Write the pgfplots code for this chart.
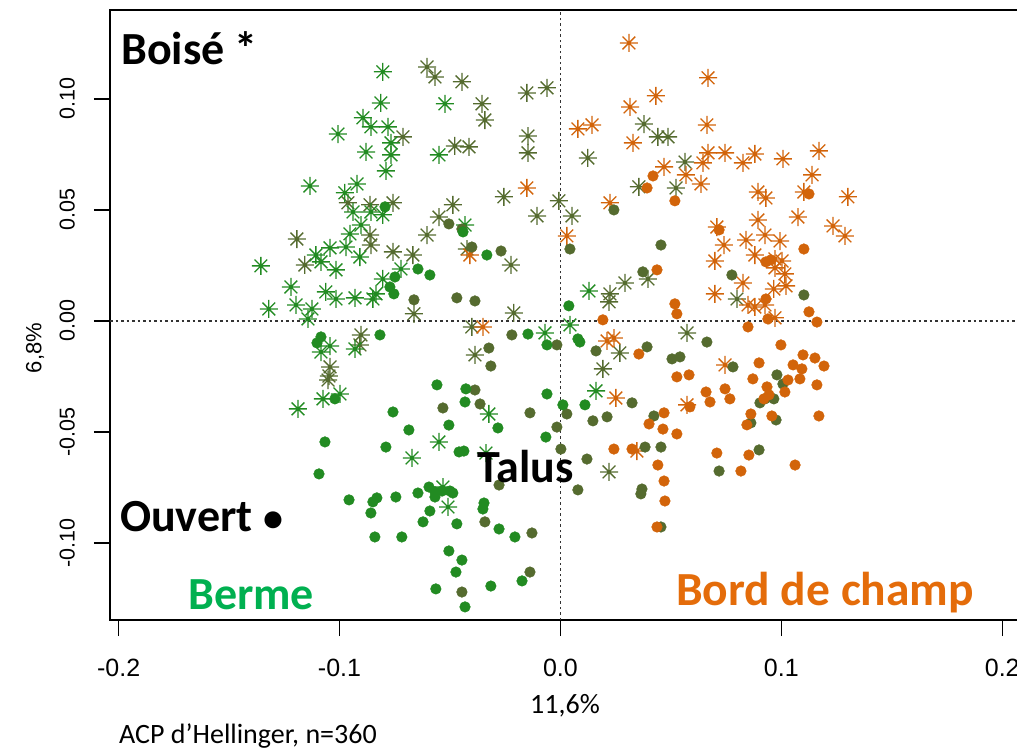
\documentclass[border=0pt]{standalone}
\usepackage{pgfplots}
\pgfplotsset{compat=1.18}
\usepackage{fontspec}
\setmainfont{Carlito}
\newfontfamily\arialf{Liberation Sans}
\definecolor{cgreen}{RGB}{34,139,34}
\definecolor{colive}{RGB}{85,107,47}
\definecolor{corange}{RGB}{210,100,10}
\definecolor{tgreen}{RGB}{0,176,80}
\definecolor{torange}{RGB}{228,108,10}
\pgfdeclareplotmark{rast}{%
 \pgfpathmoveto{\pgfqpoint{-\pgfplotmarksize}{0pt}}%
 \pgfpathlineto{\pgfqpoint{\pgfplotmarksize}{0pt}}%
 \pgfpathmoveto{\pgfqpoint{0pt}{-\pgfplotmarksize}}%
 \pgfpathlineto{\pgfqpoint{0pt}{\pgfplotmarksize}}%
 \pgfpathmoveto{\pgfqpoint{-0.7071\pgfplotmarksize}{-0.7071\pgfplotmarksize}}%
 \pgfpathlineto{\pgfqpoint{0.7071\pgfplotmarksize}{0.7071\pgfplotmarksize}}%
 \pgfpathmoveto{\pgfqpoint{-0.7071\pgfplotmarksize}{0.7071\pgfplotmarksize}}%
 \pgfpathlineto{\pgfqpoint{0.7071\pgfplotmarksize}{-0.7071\pgfplotmarksize}}%
 \pgfusepathqstroke}
\pgfplotsset{
 astr/.style={only marks, mark=rast, mark size=9pt, mark options={line width=1.3pt, draw=#1}},
 dotr/.style={only marks, mark=*, mark size=5.3pt, mark options={fill=#1, draw=#1, line width=0.5pt}},
}
\begin{document}
\begin{tikzpicture}
\begin{axis}[
 at={(0pt,0pt)}, anchor=south west,
 scale only axis, width=925.4pt, height=610.1pt,
 xmin=-0.2039, xmax=0.215, ymin=-0.1347, ymax=0.1401,
 axis line style={line width=1.3pt, black},
 tick pos=left, tick align=outside, major tick length=16pt,
 every tick/.style={black, line width=1.3pt},
 xtick={-0.2,-0.1,0,0.1,0.2}, xticklabels={-0.2,-0.1,0.0,0.1,0.2},
 ytick={-0.1,-0.05,0,0.05,0.1}, yticklabels={-0.10,-0.05,0.00,0.05,0.10},
 xticklabel style={font=\arialf\fontsize{25}{30}\selectfont, inner sep=0pt, anchor=north, yshift=-23pt},
 yticklabel style={font=\arialf\fontsize{21.5}{26}\selectfont, inner sep=0pt, rotate=90, anchor=south, yshift=19pt},
]
\draw[black!80, line width=1.2pt, dash pattern=on 2.5pt off 3pt] (axis cs:0,-0.1347) -- (axis cs:0,0.1401);
\draw[black!80, line width=1.2pt, dash pattern=on 2.5pt off 3pt] (axis cs:-0.2039,0) -- (axis cs:0.215,0);
% Talus - Boise
\addplot[astr=colive] coordinates {(-0.0713,0.0829) (-0.0962,0.0532) (-0.0862,0.0523) (-0.0758,0.0532) (-0.0604,0.1144) (-0.0568,0.1099) (-0.0446,0.1077) (-0.0355,0.0978) (-0.0342,0.0905) (-0.0152,0.1027) (-0.0061,0.1050) (-0.0147,0.0833) (-0.0147,0.0757) (-0.0478,0.0788) (-0.0414,0.0784) (-0.0256,0.0559) (-0.0487,0.0523) (-0.0007,0.0541) (-0.0550,0.0468) (-0.0106,0.0473) (0.0052,0.0473) (0.0378,0.0887) (0.0441,0.0829) (0.0487,0.0829) (0.0124,0.0734) (0.0564,0.0716) (0.0355,0.0604) (0.0523,0.0599) (-0.1193,0.0369) (-0.0862,0.0387) (-0.0858,0.0342) (-0.0758,0.0311) (-0.0668,0.0297) (-0.1157,0.0252) (-0.0663,0.0032) (-0.0903,-0.0063) (-0.0908,-0.0108) (-0.1043,-0.0207) (-0.1048,-0.0248) (-0.1052,-0.0266) (-0.0604,0.0387) (-0.0423,0.0324) (-0.0224,0.0252) (0.0396,0.0189) (0.0292,0.0171) (0.0224,0.0122) (0.0220,0.0086) (-0.0211,0.0036) (-0.0401,-0.0027) (0.0573,-0.0054) (-0.0387,-0.0153) (0.0192,-0.0216) (0.0269,-0.0144) (0.0799,0.0099) (0.0220,-0.0680)};
% Berme - Boise
\addplot[astr=cgreen] coordinates {(-0.0804,0.1122) (-0.0813,0.0982) (-0.0894,0.0915) (-0.0858,0.0874) (-0.0781,0.0874) (-0.1007,0.0842) (-0.0767,0.0802) (-0.0880,0.0761) (-0.0767,0.0748) (-0.0790,0.0676) (-0.1134,0.0608) (-0.0921,0.0617) (-0.0976,0.0577) (-0.0523,0.0978) (-0.0550,0.0748) (-0.0939,0.0491) (-0.0858,0.0491) (-0.0804,0.0478) (-0.0903,0.0432) (-0.0953,0.0392) (-0.0971,0.0333) (-0.1043,0.0329) (-0.1107,0.0297) (-0.0908,0.0288) (-0.1084,0.0266) (-0.1016,0.0230) (-0.0722,0.0234) (-0.1356,0.0248) (-0.0804,0.0189) (-0.1220,0.0153) (-0.1062,0.0131) (-0.1016,0.0099) (-0.0930,0.0104) (-0.0849,0.0099) (-0.0835,0.0122) (-0.1320,0.0054) (-0.1197,0.0072) (-0.1125,0.0054) (-0.1143,0.0009) (-0.1043,-0.0113) (-0.1084,-0.0140) (-0.0930,-0.0126) (-0.1075,-0.0351) (-0.0998,-0.0329) (-0.1188,-0.0396) (-0.0432,0.0432) (0.0129,0.0135) (0.0043,-0.0018) (-0.0070,-0.0054) (0.0161,-0.0315) (-0.0324,-0.0419) (-0.0672,-0.0617) (-0.0550,-0.0545) (-0.0337,-0.0595) (-0.0532,-0.0748) (-0.0509,-0.0838)};
% Bord de champ - Boise
\addplot[astr=corange] coordinates {(0.0310,0.1252) (0.0668,0.1095) (0.0432,0.1014) (0.0315,0.0964) (0.0079,0.0865) (0.0143,0.0883) (0.0663,0.0883) (0.0328,0.0802) (0.0668,0.0757) (0.0645,0.0712) (0.0469,0.0694) (0.0568,0.0658) (0.0636,0.0617) (-0.0152,0.0599) (0.0224,0.0532) (0.0745,0.0757) (0.0826,0.0712) (0.0880,0.0752) (0.1007,0.0730) (0.1170,0.0766) (0.1139,0.0658) (0.0894,0.0581) (0.0930,0.0554) (0.1102,0.0581) (0.1301,0.0559) (0.1075,0.0468) (0.0894,0.0455) (0.0029,0.0383) (-0.0410,0.0297) (-0.0351,-0.0027) (0.0211,-0.0090) (0.0242,-0.0077) (0.0251,-0.0347) (0.0573,-0.0378) (0.1234,0.0428) (0.1288,0.0383) (0.0708,0.0423) (0.0740,0.0342) (0.0840,0.0365) (0.0926,0.0387) (0.0994,0.0360) (0.0880,0.0297) (0.0971,0.0279) (0.1003,0.0270) (0.0699,0.0270) (0.0971,0.0239) (0.1016,0.0212) (0.0826,0.0171) (0.1021,0.0158) (0.0966,0.0144) (0.0699,0.0122) (0.0849,0.0072) (0.0880,0.0063) (0.0926,0.0072) (0.0971,0.0014) (0.0745,-0.0198) (0.0346,-0.0586)};
% Talus - Ouvert
\addplot[dotr=colive] coordinates {(0.0242,0.0500) (-0.0663,0.0095) (-0.0505,0.0437) (-0.0446,0.0414) (0.0043,0.0324) (0.0455,0.0342) (-0.0401,0.0333) (-0.0269,0.0315) (0.0373,0.0221) (-0.0469,0.0104) (-0.0387,0.0090) (-0.0220,-0.0063) (-0.0016,-0.0108) (0.0161,-0.0135) (0.0392,-0.0117) (0.0663,-0.0095) (0.0505,-0.0171) (0.0541,-0.0162) (-0.0324,-0.0122) (-0.0315,-0.0203) (-0.0387,-0.0311) (-0.0364,-0.0374) (-0.0532,-0.0392) (-0.0138,-0.0414) (0.0029,-0.0419) (0.0324,-0.0369) (0.0211,-0.0432) (0.0423,-0.0428) (0.0776,0.0207) (0.1102,0.0117) (0.0781,-0.0207) (0.0980,-0.0243) (0.1007,-0.0284) (0.0926,-0.0351) (0.0966,-0.0351) (0.0903,-0.0369) (-0.0016,-0.0478) (0.0147,-0.0450) (0.0002,-0.0577) (0.0120,-0.0622) (0.0383,-0.0568) (0.0455,-0.0568) (-0.0278,-0.0739) (-0.0342,-0.0905) (-0.0129,-0.0955) (0.0079,-0.0761) (0.0369,-0.0757) (0.0364,-0.0779) (0.0455,-0.0928) (-0.0138,-0.1131) (-0.0446,-0.1221) (0.0862,-0.0459) (0.0976,-0.0446) (0.0899,-0.0581) (0.0718,-0.0676)};
% Berme - Ouvert
\addplot[dotr=cgreen] coordinates {(-0.0794,0.0514) (-0.0749,0.0198) (-0.0772,0.0153) (-0.0754,0.0122) (-0.1084,-0.0072) (-0.1102,-0.0099) (-0.0817,-0.0063) (-0.1021,-0.0351) (-0.0758,-0.0410) (-0.0441,0.0401) (-0.0333,0.0297) (-0.0645,0.0234) (-0.0591,0.0207) (0.0038,0.0068) (-0.0147,-0.0059) (-0.0061,-0.0108) (0.0079,-0.0081) (0.0088,-0.0095) (-0.0559,-0.0288) (-0.0428,-0.0306) (-0.0061,-0.0329) (-0.0432,-0.0365) (0.0011,-0.0378) (0.0111,-0.0378) (-0.1066,-0.0545) (-0.0790,-0.0568) (-0.0686,-0.0491) (-0.1093,-0.0689) (-0.0957,-0.0806) (-0.0831,-0.0797) (-0.0849,-0.0815) (-0.0745,-0.0793) (-0.0858,-0.0865) (-0.0840,-0.0973) (-0.0718,-0.0973) (-0.0505,-0.0469) (-0.0283,-0.0482) (-0.0066,-0.0523) (-0.0459,-0.0590) (-0.0437,-0.0586) (-0.0645,-0.0775) (-0.0595,-0.0748) (-0.0568,-0.0770) (-0.0536,-0.0766) (-0.0500,-0.0766) (-0.0487,-0.0775) (-0.0568,-0.0793) (-0.0591,-0.0856) (-0.0622,-0.0905) (-0.0469,-0.0914) (-0.0346,-0.0820) (-0.0351,-0.0847) (-0.0278,-0.0937) (-0.0206,-0.0973) (-0.0505,-0.1036) (-0.0446,-0.1077) (-0.0473,-0.1131) (-0.0174,-0.1171) (-0.0564,-0.1207) (-0.0315,-0.1194) (-0.0432,-0.1288)};
% Bord de champ - Ouvert
\addplot[dotr=corange] coordinates {(0.0419,0.0653) (0.0392,0.0599) (0.0518,0.0541) (0.1125,0.0572) (0.0437,0.0230) (0.0518,0.0077) (0.0527,0.0032) (0.0192,0.0005) (0.0355,-0.0149) (0.0527,-0.0252) (0.0582,-0.0243) (0.0659,-0.0320) (0.0469,-0.0414) (0.0586,-0.0387) (0.0677,-0.0365) (0.0718,0.0410) (0.1102,0.0324) (0.0930,0.0266) (0.0953,0.0275) (0.0930,0.0099) (0.1125,0.0041) (0.0939,0.0009) (0.1161,-0.0005) (0.0849,-0.0027) (0.0998,-0.0108) (0.1098,-0.0153) (0.1152,-0.0167) (0.1193,-0.0203) (0.0899,-0.0189) (0.1053,-0.0198) (0.1093,-0.0216) (0.1084,-0.0261) (0.0871,-0.0261) (0.1030,-0.0266) (0.1161,-0.0288) (0.0745,-0.0306) (0.0767,-0.0351) (0.0935,-0.0297) (0.0944,-0.0333) (0.1016,-0.0320) (0.0921,-0.0351) (0.0862,-0.0419) (0.0957,-0.0428) (0.1170,-0.0428) (0.0401,-0.0464) (0.0464,-0.0487) (0.0527,-0.0509) (0.0242,-0.0577) (0.0324,-0.0577) (0.0441,-0.0649) (0.0469,-0.0721) (0.0473,-0.0811) (0.0437,-0.0928) (0.0844,-0.0468) (0.0708,-0.0595) (0.0853,-0.0604) (0.0817,-0.0676) (0.1062,-0.0649)};
\end{axis}
\node[anchor=base west, inner sep=0pt, font=\bfseries\fontsize{46}{50}\selectfont] at (11pt,555pt) {Boisé *};
\node[anchor=base west, inner sep=0pt, font=\bfseries\fontsize{46}{50}\selectfont] at (10pt,89pt) {Ouvert {\fontsize{40}{44}\selectfont •}};
\node[anchor=base west, inner sep=0pt, font=\bfseries\fontsize{46}{50}\selectfont] at (367pt,138pt) {Talus};
\node[anchor=base west, inner sep=0pt, font=\bfseries\fontsize{46}{50}\selectfont, text=tgreen] at (78pt,11pt) {Berme};
\node[anchor=base west, inner sep=0pt, font=\bfseries\fontsize{47.5}{52}\selectfont, text=torange] at (566pt,15pt) {Bord de champ};
\node[rotate=90, inner sep=0pt, font=\arialf\fontsize{22}{26}\selectfont] at (-75pt,272pt) {6,8\%};
\node[inner sep=0pt, font=\fontsize{28}{32}\selectfont] at (455pt,-86pt) {11,6\%};
\node[anchor=base west, inner sep=0pt, font=\fontsize{28}{32}\selectfont] at (9pt,-123pt) {ACP d’Hellinger, n=360};
\pgfresetboundingbox
\useasboundingbox (-110pt,-130pt) rectangle (907pt,620pt);
\end{tikzpicture}
\end{document}
